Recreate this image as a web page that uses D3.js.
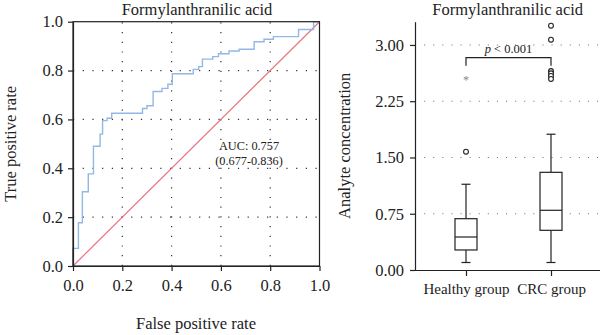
<!DOCTYPE html>
<html><head><meta charset="utf-8">
<script src="https://cdn.jsdelivr.net/npm/d3@7"></script>
<style>
body{margin:0;background:#fff;}
svg{font-family:"Liberation Serif","DejaVu Serif",serif;}
</style></head>
<body><svg id="c" width="600" height="335"></svg>
<script>
// ROC data (vertices of step curve)
const rocFpr = [0,0,0.022,0.038,0.062,0.083,0.11,0.12,0.138,0.157,0.282,0.30,0.325,0.361,0.385,0.403,0.488,0.51,0.525,0.567,0.59,0.633,0.674,0.735,0.775,0.813,0.915,0.976,1.0];
const rocTpr = [0,0.072,0.177,0.304,0.377,0.49,0.54,0.595,0.605,0.625,0.645,0.656,0.714,0.727,0.744,0.787,0.805,0.816,0.847,0.857,0.869,0.88,0.887,0.918,0.928,0.939,0.968,1.0,1.0];
const rocTicks = [0,0.2,0.4,0.6,0.8,1.0];
const aucText = ["AUC: 0.757","(0.677-0.836)"];
const title = "Formylanthranilic acid";

// Box plot data
const groups = ["Healthy group","CRC group"];
const whiskLo = [0.10,0.10];
const q1 = [0.267,0.529];
const med = [0.44,0.796];
const q3 = [0.684,1.302];
const whiskHi = [1.143,1.81];
const outliersHealthy = [1.577];
const outliersCRC = [3.257,3.07,2.653,2.623,2.587,2.547];
const extremeHealthy = [2.547];
const boxTicks = [0,0.75,1.5,2.25,3.0];
const pText = "< 0.001";

const svg = d3.select("#c");
const FS = 16.5;

// ---------- ROC ----------
const x = d3.scaleLinear([0,1],[73,319.5]);
const y = d3.scaleLinear([0,1],[266,21.7]);
const g1 = svg.append("g");

const gridVals = rocTicks.filter(v=>v>0 && v<1);
g1.selectAll(".gx").data(gridVals).enter().append("line")
  .attr("x1",d=>x(d)).attr("x2",d=>x(d)).attr("y1",y(0)).attr("y2",y(1))
  .attr("stroke","#333").attr("stroke-width",1.2).attr("stroke-dasharray","1.2,8.5");
g1.selectAll(".gy").data(gridVals).enter().append("line")
  .attr("y1",d=>y(d)).attr("y2",d=>y(d)).attr("x1",x(0)).attr("x2",x(1))
  .attr("stroke","#333").attr("stroke-width",1.2).attr("stroke-dasharray","1.2,8.5");

g1.append("line").attr("x1",x(0)).attr("y1",y(0)).attr("x2",x(1)).attr("y2",y(1))
  .attr("stroke","#e8737f").attr("stroke-width",1.2);

const rocPts = rocFpr.map((f,i)=>[f,rocTpr[i]]);
g1.append("path").datum(rocPts)
  .attr("d", d3.line().x(d=>x(d[0])).y(d=>y(d[1])).curve(d3.curveStepAfter))
  .attr("fill","none").attr("stroke","#92b8e6").attr("stroke-width",1.4);

g1.append("rect").attr("x",x(0)).attr("y",y(1)).attr("width",x(1)-x(0)).attr("height",y(0)-y(1))
  .attr("fill","none").attr("stroke","#222").attr("stroke-width",1.2);

const axL = g1.append("g").attr("transform",`translate(${x(0)},0)`)
  .call(d3.axisLeft(y).tickValues(rocTicks).tickFormat(d3.format(".1f")).tickSize(5).tickPadding(5).tickSizeOuter(0));
const axB = g1.append("g").attr("transform",`translate(0,${y(0)})`)
  .call(d3.axisBottom(x).tickValues(rocTicks).tickFormat(d3.format(".1f")).tickSize(5).tickPadding(8).tickSizeOuter(0));
[axL,axB].forEach(a=>{a.select(".domain").attr("stroke","#222").attr("stroke-width",1.2);
  a.selectAll(".tick line").attr("stroke","#222").attr("stroke-width",1.2);
  a.selectAll("text").attr("font-size",FS).attr("fill","#222").attr("font-family","Liberation Serif");});

g1.append("text").attr("x",197).attr("y",15).attr("text-anchor","middle").attr("font-size",FS).attr("fill","#222").text(title);
g1.append("text").attr("x",196).attr("y",329).attr("text-anchor","middle").attr("font-size",FS).attr("fill","#222").text("False positive rate");
g1.append("text").attr("transform",`translate(16,${(y(0)+y(1))/2}) rotate(-90)`).attr("text-anchor","middle").attr("font-size",FS).attr("fill","#222").text("True positive rate");
g1.selectAll(".auc").data(aucText).enter().append("text")
  .attr("x",249).attr("y",(d,i)=>150+i*15).attr("text-anchor","middle").attr("font-size",12.3).attr("fill","#222").text(d=>d);

// ---------- Box plot ----------
const g2 = svg.append("g");
const xb = d3.scalePoint(groups,[415,602]).padding(0.6);
const yb = d3.scaleLinear([0,3.31],[270,21.7]);
const bw = 22, cw = 9;

g2.selectAll(".bg").data(boxTicks.filter(v=>v>0)).enter().append("line")
  .attr("x1",415).attr("x2",600).attr("y1",d=>yb(d)).attr("y2",d=>yb(d))
  .attr("stroke","#777").attr("stroke-width",1.1).attr("stroke-dasharray","1.1,8");

const axBL = g2.append("g").attr("transform","translate(415,0)")
  .call(d3.axisLeft(yb).tickValues(boxTicks).tickFormat(d3.format(".2f")).tickSize(5).tickPadding(6).tickSizeOuter(0));
const axBB = g2.append("g").attr("transform",`translate(0,${yb(0)})`)
  .call(d3.axisBottom(xb).tickSize(6).tickPadding(7).tickSizeOuter(0));
axBB.select(".domain").attr("d","M415,0.5H600");
[axBL,axBB].forEach(a=>{a.select(".domain").attr("stroke","#222").attr("stroke-width",1.2);
  a.selectAll(".tick line").attr("stroke","#222").attr("stroke-width",1.2);
  a.selectAll("text").attr("font-size",FS).attr("fill","#222").attr("font-family","Liberation Serif");});
axBB.selectAll("text").attr("font-size",15);

groups.forEach((gname,i)=>{
  const cx = xb(gname);
  const gg = g2.append("g").attr("stroke","#222").attr("stroke-width",1.2).attr("fill","none");
  gg.append("line").attr("x1",cx).attr("x2",cx).attr("y1",yb(whiskLo[i])).attr("y2",yb(q1[i]));
  gg.append("line").attr("x1",cx).attr("x2",cx).attr("y1",yb(q3[i])).attr("y2",yb(whiskHi[i]));
  gg.append("line").attr("x1",cx-cw/2).attr("x2",cx+cw/2).attr("y1",yb(whiskLo[i])).attr("y2",yb(whiskLo[i]));
  gg.append("line").attr("x1",cx-cw/2).attr("x2",cx+cw/2).attr("y1",yb(whiskHi[i])).attr("y2",yb(whiskHi[i]));
  gg.append("rect").attr("x",cx-bw/2).attr("width",bw).attr("y",yb(q3[i])).attr("height",yb(q1[i])-yb(q3[i])).attr("fill","#fff");
  gg.append("line").attr("x1",cx-bw/2).attr("x2",cx+bw/2).attr("y1",yb(med[i])).attr("y2",yb(med[i]));
});
const outs = [[groups[0],outliersHealthy],[groups[1],outliersCRC]];
outs.forEach(([gname,vals])=>{
  g2.selectAll(null).data(vals).enter().append("circle")
    .attr("cx",xb(gname)).attr("cy",d=>yb(d)).attr("r",2.4)
    .attr("fill","#fff").attr("stroke","#222").attr("stroke-width",1.1);
});
g2.selectAll(null).data(extremeHealthy).enter().append("text")
  .attr("x",xb(groups[0])).attr("y",d=>yb(d)+5.5).attr("text-anchor","middle")
  .attr("font-size",12).attr("fill","#888").text("*");

const by = 57.7, bd = 8;
g2.append("path").attr("d",`M${xb(groups[0])},${by+bd}V${by}H${xb(groups[1])}V${by+bd}`)
  .attr("fill","none").attr("stroke","#222").attr("stroke-width",1.2);
const pt = g2.append("text").attr("x",(xb(groups[0])+xb(groups[1]))/2).attr("y",by-5).attr("text-anchor","middle").attr("font-size",12.5).attr("fill","#222");
pt.append("tspan").attr("font-style","italic").text("p");
pt.append("tspan").text(" " + pText);

g2.append("text").attr("x",507.7).attr("y",15).attr("text-anchor","middle").attr("font-size",FS).attr("fill","#222").text(title);
g2.append("text").attr("transform",`translate(350,${(yb(0)+21.7)/2}) rotate(-90)`).attr("text-anchor","middle").attr("font-size",FS).attr("fill","#222").text("Analyte concentration");
</script></body></html>
